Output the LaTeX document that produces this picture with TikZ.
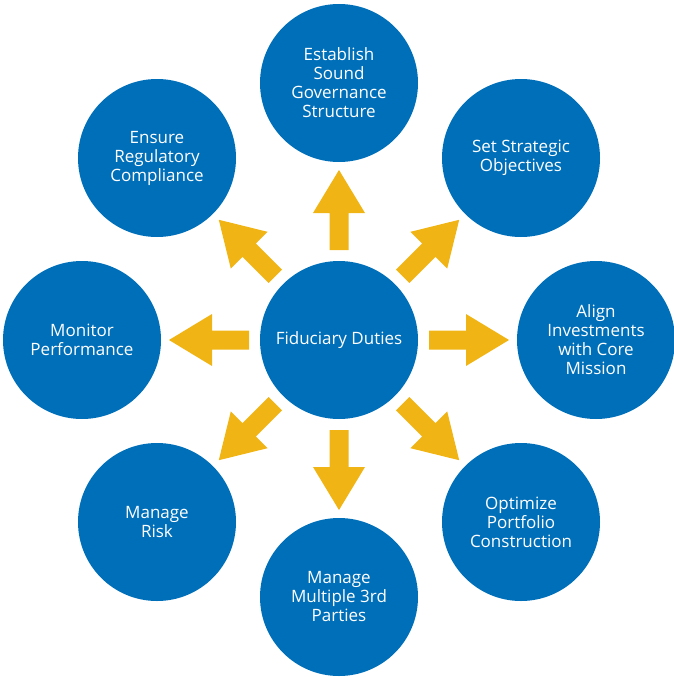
\documentclass[tikz,border=0pt]{standalone}
\usepackage{fontspec}
\setmainfont{Open Sans}
\definecolor{cblue}{RGB}{0,111,185}
\definecolor{cyellow}{RGB}{240,180,20}
\tikzset{
  duty/.style={circle, fill=cblue, minimum size=158pt, inner sep=0pt, text=white, align=center, font=\fontsize{17}{19}\selectfont},
  blockarrow/.style={fill=cyellow, draw=none}
}
\begin{document}
\begin{tikzpicture}[x=1pt,y=-1pt]
\useasboundingbox (0,0) rectangle (673,677);
\node[duty] (c) at (339,340) {Fiduciary Duties};
\node[duty] (n) at (339,83) {Establish\\Sound\\Governance\\Structure};
\node[duty] (ne) at (521,158) {Set Strategic\\Objectives};
\node[duty] (e) at (596,340) {Align\\Investments\\with Core\\Mission};
\node[duty] (se) at (521,522) {Optimize\\Portfolio\\Construction};
\node[duty] (s) at (339,597) {Manage\\Multiple 3rd\\Parties};
\node[duty] (sw) at (157,522) {Manage\\Risk};
\node[duty] (w) at (82,340) {Monitor\\Performance};
\node[duty] (nw) at (157,158) {Ensure\\Regulatory\\Compliance};
\foreach \t in {n,ne,e,se,s,sw,w,nw}{
  \pgfmathanglebetweenpoints{\pgfpointanchor{c}{center}}{\pgfpointanchor{\t}{center}}
  \let\ang\pgfmathresult
  \begin{scope}[shift={(c.center)}, rotate=\ang, y=1pt]
    \fill[blockarrow] (90,-9.5) -- (127,-9.5) -- (127,-26) -- (170,0) -- (127,26) -- (127,9.5) -- (90,9.5) -- cycle;
  \end{scope}
}
\end{tikzpicture}
\end{document}
